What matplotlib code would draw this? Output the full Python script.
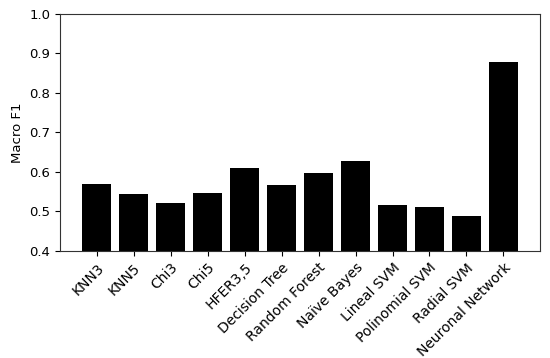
import matplotlib
matplotlib.use("Agg")
import matplotlib.pyplot as plt

# classifier names and their macro F1 scores
models = ['KNN3', 'KNN5', 'Chi3', 'Chi5', 'HFER3,5', 'Decision Tree',
          'Random Forest', 'Naïve Bayes', 'Lineal SVM', 'Polinomial SVM',
          'Radial SVM', 'Neuronal Network']
f1 = [0.570, 0.543, 0.521, 0.547, 0.611, 0.566,
      0.598, 0.628, 0.517, 0.511, 0.488, 0.878]

fig = plt.figure(figsize=(5.5, 3.58), dpi=100)
ax = fig.add_axes([0.109, 0.299, 0.873, 0.662])

ax.bar(range(len(models)), f1, width=0.8, color='black')
ax.set_ylim(0.4, 1.0)
ax.set_xticks(range(len(models)))
ax.set_xticklabels(models, rotation=45, ha='right', rotation_mode='anchor', fontsize=10)
ax.tick_params(axis='y', labelsize=9.5)
ax.set_ylabel('Macro F1', fontsize=9.5)
for s in ax.spines.values():
    s.set_color('#333333')

fig.savefig('out.png', dpi=100)
